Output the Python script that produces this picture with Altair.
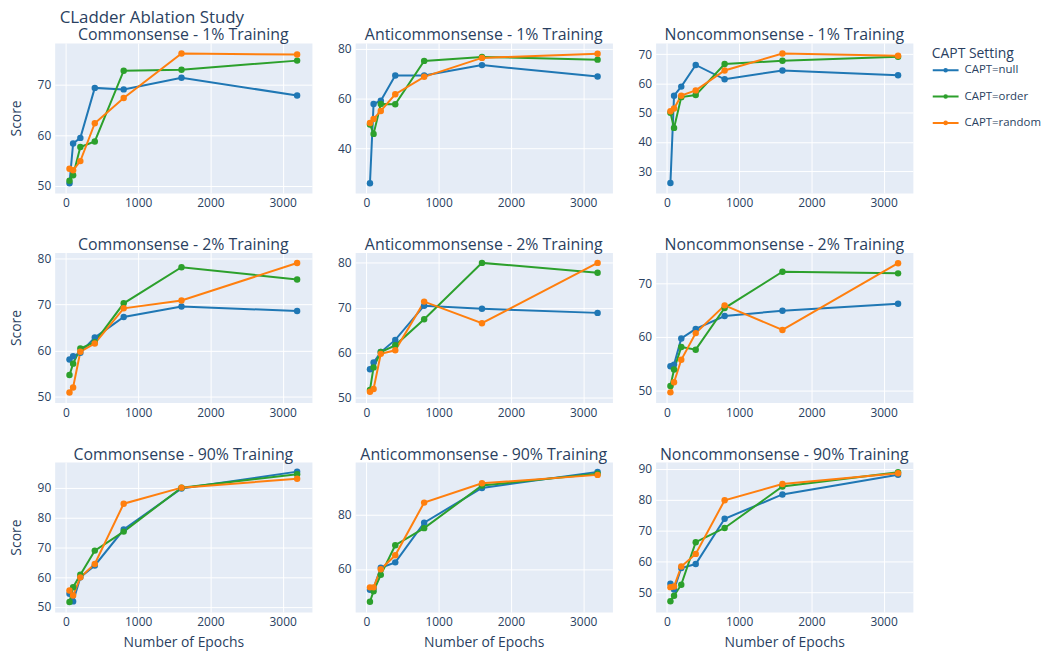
import altair as alt
import pandas as pd

EPOCHS = [50, 100, 200, 400, 800, 1600, 3200]
SETTINGS = ["CAPT=null", "CAPT=order", "CAPT=random"]
COLORS = ["#1f77b4", "#2ca02c", "#ff7f0e"]
DATASETS = ["Commonsense", "Anticommonsense", "Noncommonsense"]
TRAINING = ["1%", "2%", "90%"]

# Scores, per panel, per CAPT setting (null, order, random)
commonsense_1 = {
    "null":   [50.5, 58.4, 59.5, 69.4, 69.1, 71.4, 67.9],
    "order":  [51.0, 52.1, 57.7, 58.8, 72.8, 73.0, 74.8],
    "random": [53.4, 53.1, 54.9, 62.4, 67.4, 76.2, 76.0],
}
anticommonsense_1 = {
    "null":   [26.0, 57.8, 59.1, 69.2, 69.2, 73.4, 68.8],
    "order":  [49.6, 45.8, 57.8, 57.7, 75.1, 76.7, 75.6],
    "random": [50.2, 51.8, 55.0, 61.7, 68.7, 76.3, 78.0],
}
noncommonsense_1 = {
    "null":   [26.0, 55.8, 58.9, 66.3, 61.4, 64.4, 62.8],
    "order":  [50.0, 44.8, 55.3, 56.0, 66.6, 67.7, 69.1],
    "random": [50.5, 51.4, 55.8, 57.6, 64.4, 70.2, 69.4],
}
commonsense_2 = {
    "null":   [58.0, 58.7, 59.5, 62.8, 67.3, 69.6, 68.6],
    "order":  [54.6, 57.1, 60.4, 61.8, 70.3, 78.2, 75.5],
    "random": [50.8, 51.9, 59.7, 61.5, 69.2, 70.9, 79.1],
}
anticommonsense_2 = {
    "null":   [56.4, 57.9, 60.2, 62.9, 70.5, 69.8, 68.9],
    "order":  [51.8, 56.8, 60.2, 61.7, 67.5, 80.0, 77.8],
    "random": [51.4, 52.0, 59.8, 60.6, 71.4, 66.6, 80.0],
}
noncommonsense_2 = {
    "null":   [54.5, 54.8, 59.7, 61.5, 63.9, 64.9, 66.2],
    "order":  [50.8, 53.9, 58.1, 57.6, 65.4, 72.2, 71.9],
    "random": [49.6, 51.5, 55.7, 60.7, 65.9, 61.3, 73.8],
}
commonsense_90 = {
    "null":   [54.4, 51.8, 59.9, 63.9, 76.0, 89.8, 95.5],
    "order":  [51.6, 56.6, 60.8, 68.9, 75.3, 90.1, 94.6],
    "random": [55.5, 53.8, 59.9, 64.4, 84.7, 90.1, 93.1],
}
anticommonsense_90 = {
    "null":   [52.3, 52.9, 60.4, 62.4, 77.0, 89.8, 95.7],
    "order":  [47.9, 51.8, 57.8, 68.7, 75.0, 90.7, 95.0],
    "random": [53.2, 53.2, 59.9, 65.0, 84.4, 91.5, 94.6],
}
noncommonsense_90 = {
    "null":   [52.7, 50.8, 57.8, 59.1, 73.8, 81.7, 88.1],
    "order":  [47.0, 48.8, 52.4, 66.2, 70.8, 84.3, 88.9],
    "random": [51.6, 51.8, 58.3, 62.4, 79.8, 85.1, 88.6],
}

SCORES = [
    [commonsense_1, anticommonsense_1, noncommonsense_1],
    [commonsense_2, anticommonsense_2, noncommonsense_2],
    [commonsense_90, anticommonsense_90, noncommonsense_90],
]

# Axis tick labels per panel
X_TICKS = [0, 1000, 2000, 3000]
Y_TICKS = [
    [[50, 60, 70], [40, 60, 80], [30, 40, 50, 60, 70]],
    [[50, 60, 70, 80], [50, 60, 70, 80], [50, 60, 70]],
    [[50, 60, 70, 80, 90], [60, 80], [50, 60, 70, 80, 90]],
]
# Axis ranges per panel
X_RANGE = [-155, 3405]
Y_RANGE = [
    [[48.6, 78.3], [22.1, 82.3], [22.6, 73.8]],
    [[48.6, 81.4], [49.0, 82.3], [47.7, 75.8]],
    [[48.2, 98.7], [44.1, 99.3], [43.5, 92.2]],
]

TEXT = "#2a3f5f"
FONT = "Open Sans"

panels = []
for r, tr in enumerate(TRAINING):
    for c, ds in enumerate(DATASETS):
        rows = []
        for key, label in zip(["null", "order", "random"], SETTINGS):
            for e, s in zip(EPOCHS, SCORES[r][c][key]):
                rows.append({"epochs": e, "score": s, "setting": label})
        df = pd.DataFrame(rows)
        x_enc = alt.X(
            "epochs:Q",
            scale=alt.Scale(domain=X_RANGE, nice=False, zero=False),
            axis=alt.Axis(values=X_TICKS, format="d"),
            title="Number of Epochs" if r == 2 else None,
        )
        y_enc = alt.Y(
            "score:Q",
            scale=alt.Scale(domain=Y_RANGE[r][c], nice=False, zero=False),
            axis=alt.Axis(values=Y_TICKS[r][c], format="d"),
            title="Score" if c == 0 else None,
        )
        ch = (
            alt.Chart(df)
            .mark_line(strokeWidth=2, point=alt.OverlayMarkDef(filled=True, size=42))
            .encode(
                x=x_enc,
                y=y_enc,
                color=alt.Color(
                    "setting:N",
                    scale=alt.Scale(domain=SETTINGS, range=COLORS),
                    legend=alt.Legend(title="CAPT Setting"),
                ),
            )
            .properties(
                width=259,
                height=151,
                title=alt.TitleParams(
                    f"{ds} - {tr} Training",
                    fontSize=16,
                    font=FONT,
                    color=TEXT,
                    fontWeight="normal",
                    baseline="alphabetic",
                    offset=-13.5,
                ),
            )
        )
        panels.append(ch)

chart = (
    alt.concat(*panels, columns=3, spacing={"row": 60, "column": 43.5})
    .properties(
        bounds="flush",
        padding={"left": 0, "top": -2, "right": 0, "bottom": 0},
        title=alt.TitleParams(
            "CLadder Ablation Study",
            anchor="start",
            frame="group",
            fontSize=17,
            font=FONT,
            color=TEXT,
            fontWeight="normal",
            dx=5,
            offset=0,
        ),
    )
    .configure(background="white")
    .configure_view(fill="#E5ECF6", stroke="transparent")
    .configure_axis(
        domain=False,
        ticks=False,
        gridColor="white",
        gridWidth=1,
        labelColor=TEXT,
        labelFont=FONT,
        labelFontSize=12,
        titleFont=FONT,
        titleFontSize=14,
        titleColor=TEXT,
        titleFontWeight="normal",
    )
    .configure_axisX(labelPadding=5, titlePadding=8)
    .configure_axisY(labelPadding=4, titlePadding=14)
    .configure_legend(
        orient="none",
        legendX=883,
        legendY=4.5,
        padding=0,
        titleFont=FONT,
        titleFontSize=14,
        titleFontWeight="normal",
        titleColor=TEXT,
        labelFont=FONT,
        labelFontSize=11.5,
        labelColor=TEXT,
        labelOffset=5,
        symbolType="M-1,0L1,0M-0.1,0A0.1,0.1,0,1,1,0.1,0A0.1,0.1,0,1,1,-0.1,0",
        symbolSize=676,
        symbolStrokeWidth=2,
        rowPadding=6.5,
        titlePadding=-5,
    )
)

chart.save("out.html", embed_options={"renderer": "svg", "actions": False})
